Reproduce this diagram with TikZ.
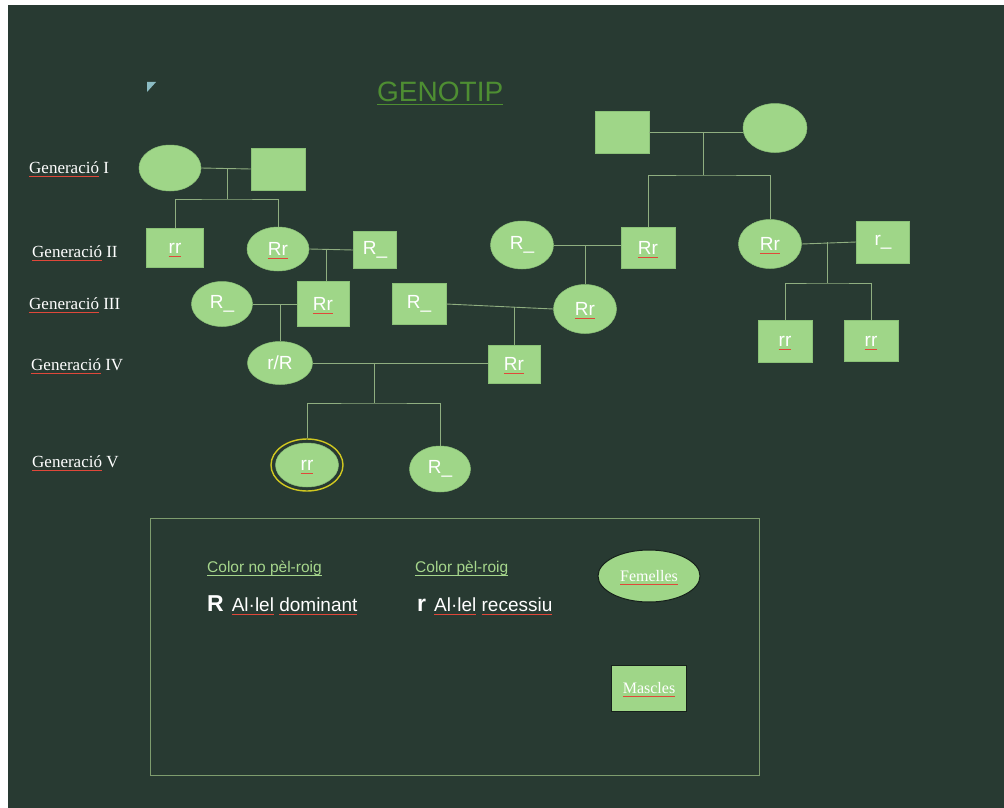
\documentclass[tikz,border=0pt]{standalone}
\usepackage{fontspec}
\setmainfont{Liberation Serif}
\setsansfont{Liberation Sans}
\usetikzlibrary{shapes.geometric,calc}
\definecolor{bg}{HTML}{283A32}
\definecolor{ngreen}{HTML}{9FD688}
\definecolor{nedge}{HTML}{8CC278}
\definecolor{conncol}{HTML}{8FAE80}
\definecolor{spellred}{HTML}{E0483A}
\definecolor{titlegreen}{HTML}{4E8E32}
\definecolor{leggreen}{HTML}{A6D68C}
\definecolor{boxline}{HTML}{7E9C6E}
\definecolor{ringyellow}{HTML}{D0C820}
\definecolor{tri}{HTML}{8CBCC4}
\definecolor{darkedge}{HTML}{16201B}
\newcommand\spl[1]{\setbox0\hbox{#1}\rlap{\smash{\textcolor{spellred}{\rule[-3.5pt]{\wd0}{0.9pt}}}}\box0\relax}
\newcommand\myul[1]{\setbox0\hbox{#1}\rlap{\smash{\rule[-4pt]{\wd0}{1pt}}}\box0\relax}
\begin{document}
\begin{tikzpicture}[x=1pt,y=-1pt,
  fem/.style={ellipse, fill=ngreen, draw=nedge, line width=0.5pt, inner sep=0pt, text=white, font=\sffamily\fontsize{19}{19}\selectfont},
  mal/.style={rectangle, fill=ngreen, draw=nedge, line width=0.5pt, inner sep=0pt, text=white, font=\sffamily\fontsize{19}{19}\selectfont},
  link/.style={draw=conncol, line width=0.9pt},
  gen/.style={anchor=west, text=white, inner sep=0pt, font=\fontsize{17}{18}\selectfont},
  legtitle/.style={anchor=west, text=leggreen, inner sep=0pt, font=\sffamily\fontsize{15.5}{16}\selectfont},
  allele/.style={anchor=base west, text=white, inner sep=0pt},
  legshape/.style={fill=ngreen, draw=darkedge, line width=1pt, inner sep=0pt, text=white, font=\fontsize{16}{16}\selectfont}]
\useasboundingbox (0,0) rectangle (1004,808);
\fill[white] (0,0) rectangle (1004,808);
\fill[bg] (8,5) rectangle (1004,808);
\fill[tri] (147,82) -- (156,82) -- (147,92) -- cycle;

% title
\node[anchor=base west, inner sep=0pt, text=titlegreen, font=\sffamily\fontsize{28}{28}\selectfont] (title) at (377,101) {\myul{GENOTIP}};

% generation labels
\node[gen] (g1) at (29,168) {\spl{Generació} I};
\node[gen] (g2) at (32,252) {\spl{Generació} II};
\node[gen] (g3) at (29,304) {\spl{Generació} III};
\node[gen] (g4) at (31,365) {\spl{Generació} IV};
\node[gen] (g5) at (32,462) {\spl{Generació} V};

% Generation I
\node[fem, minimum width=62, minimum height=46] (f1) at (170,168) {};
\node[mal, minimum width=54, minimum height=42] (m1) at (278,169) {};
\node[mal, minimum width=54, minimum height=42] (m6) at (622,132) {};
\node[fem, minimum width=64, minimum height=49] (f6) at (775,128) {};

% Generation II
\node[mal, minimum width=57, minimum height=39] (m2) at (175,248) {\spl{rr}};
\node[fem, minimum width=62, minimum height=44] (f2) at (278,249) {\spl{Rr}};
\node[mal, minimum width=43, minimum height=37] (m3) at (375,250) {R\_};
\node[fem, minimum width=63, minimum height=48] (f3) at (522,245) {R\_};
\node[mal, minimum width=54, minimum height=41] (m5) at (648,248) {\spl{Rr}};
\node[fem, minimum width=63, minimum height=49] (f7) at (770,244) {\spl{Rr}};
\node[mal, minimum width=53, minimum height=42] (m7) at (883,242) {r\_};

% Generation III
\node[fem, minimum width=61, minimum height=45] (f4) at (222,304) {R\_};
\node[mal, minimum width=52, minimum height=45] (m4) at (323,304) {\spl{Rr}};
\node[mal, minimum width=54, minimum height=41] (m10) at (419,304) {R\_};
\node[fem, minimum width=63, minimum height=49] (f5) at (585,309) {\spl{Rr}};
\node[mal, minimum width=54, minimum height=42] (m8) at (785,341) {\spl{rr}};
\node[mal, minimum width=54, minimum height=41] (m9) at (871,341) {\spl{rr}};

% Generation IV
\node[fem, minimum width=65, minimum height=43] (f8) at (280,363) {r/R};
\node[mal, minimum width=52, minimum height=38] (m11) at (514,364) {\spl{Rr}};

% Generation V
\node[ellipse, draw=ringyellow, line width=1.4pt, minimum width=72, minimum height=52, inner sep=0pt] (ring) at (307,465) {};
\node[fem, minimum width=63, minimum height=44] (f9) at (307,465) {\spl{rr}};
\node[fem, minimum width=61, minimum height=46] (f10) at (440,469) {R\_};

% junctions
\coordinate (j1) at (227,168);
\coordinate (b1) at (227,199);
\coordinate (j2) at (326,249);
\coordinate (j3) at (585,245);
\coordinate (j4) at (703,132);
\coordinate (b4) at (703,175);
\coordinate (j5) at (827,242);
\coordinate (b5) at (827,283);
\coordinate (j6) at (280,304);
\coordinate (j7) at ($(m10.east)!0.642!(f5.west)$);
\coordinate (j8) at (374,363);
\coordinate (b8) at (374,403);

% connectors
\draw[link] (f1.east) -- (m1.west);
\draw[link] (j1) -- (b1);
\draw[link] (m2.north) |- (b1) -| (f2.north);
\draw[link] (f2.east) -- (m3.west);
\draw[link] (j2) -- (j2 |- m4.north);
\draw[link] (m6.east) -- (m6.east -| f6.west);
\draw[link] (j4) -- (b4);
\draw[link] (m5.north) |- (b4) -| (f7.north);
\draw[link] (f3.east) -- (f3.east -| m5.west);
\draw[link] (j3) -- (f5.north);
\draw[link] (f7.east) -- (m7.west);
\draw[link] (j5) -- (b5);
\draw[link] (m8.north) |- (b5) -| (m9.north);
\draw[link] (f4.east) -- (m4.west);
\draw[link] (j6) -- (f8.north);
\draw[link] (m10.east) -- (f5.west);
\draw[link] (j7) -- (j7 |- m11.north);
\draw[link] (f8.east) -- (f8.east -| m11.west);
\draw[link] (j8) -- (b8);
\draw[link] (ring.north) |- (b8) -| (f10.north);

% legend
\node[draw=boxline, line width=0.8pt, minimum width=609, minimum height=257, inner sep=0pt] (legend) at (454.5,646.5) {};
\node[legtitle] (lt1) at (207,568) {\myul{Color no pèl-roig}};
\node[legtitle] (lt2) at (415,568) {\myul{Color pèl-roig}};
\node[allele] (la1) at (207,611) {{\sffamily\bfseries\fontsize{23}{23}\selectfont R}\hspace{8pt}{\sffamily\fontsize{19}{19}\selectfont\spl{Al·lel} \spl{dominant}}};
\node[allele] (la2) at (417,611) {{\sffamily\bfseries\fontsize{23}{23}\selectfont r}\hspace{8pt}{\sffamily\fontsize{19}{19}\selectfont\spl{Al·lel} \spl{recessiu}}};
\node[legshape, ellipse, minimum width=102, minimum height=52] (femelles) at (649,576) {\spl{Femelles}};
\node[legshape, rectangle, minimum width=75, minimum height=46] (mascles) at (649,688) {\spl{Mascles}};
\end{tikzpicture}
\end{document}
